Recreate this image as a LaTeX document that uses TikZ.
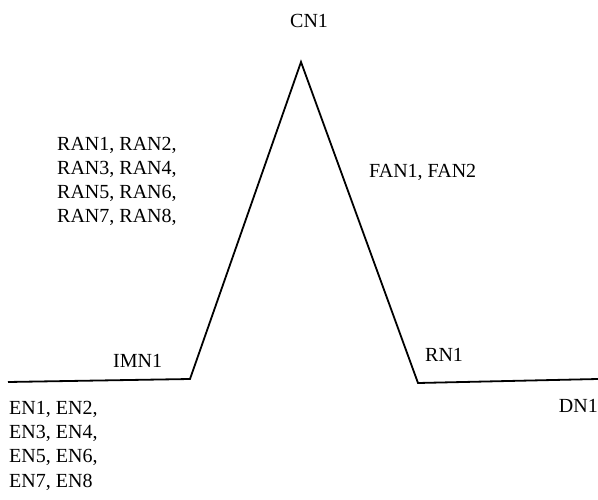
\documentclass[tikz,border=0pt]{standalone}
\usepackage{fontspec}
\setmainfont{Liberation Serif}
\usetikzlibrary{positioning}

\tikzset{
    lbl/.style={inner sep=0pt, font=\fontsize{20}{24.2}\selectfont, align=left},
    profile/.style={line width=1.8pt, line join=miter}
}

\begin{document}
\begin{tikzpicture}[x=1pt,y=-1pt]
\useasboundingbox (0,0) rectangle (598,500);

% corners of the profile
\coordinate (start) at (8,382);
\coordinate (imn) at (190,379);
\coordinate (cn) at (301,62);
\coordinate (rn) at (418,383);
\coordinate (stop) at (598,379);

\draw[profile] (start) -- (imn) -- (cn) -- (rn) -- (stop);

% labels (base of a multi-line label is its last line)
\node[lbl, anchor=base west] (cnlabel) at (290,28) {CN1};
\node[lbl, anchor=base west] (ranlabel) at (57,223) {RAN1, RAN2,\\RAN3, RAN4,\\RAN5, RAN6,\\RAN7, RAN8,};
\node[lbl, anchor=base west] (fanlabel) at (369,178) {FAN1, FAN2};
\node[lbl, anchor=base west] (imnlabel) at (113,367) {IMN1};
\node[lbl, anchor=base west] (rnlabel) at (425,362) {RN1};
\node[lbl, anchor=base east] (dnlabel) at (598,412) {DN1};
\node[lbl, anchor=base west] (enlabel) at (9,487) {EN1, EN2,\\EN3, EN4,\\EN5, EN6,\\EN7, EN8};
\end{tikzpicture}
\end{document}
